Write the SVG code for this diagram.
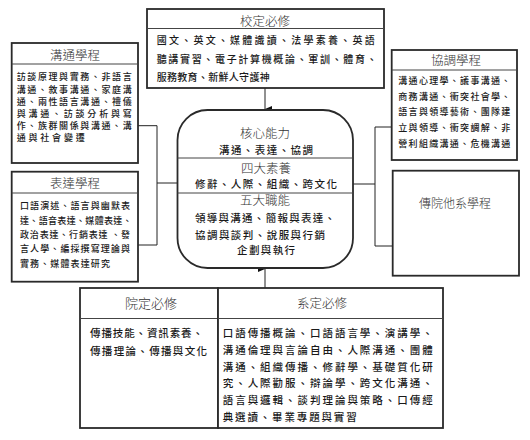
<svg xmlns="http://www.w3.org/2000/svg" width="530" height="440" viewBox="0 0 530 440">
<style>
.bx{fill:#fff;stroke:#2a2a2a;stroke-width:1.8}
.dv{stroke:#444;stroke-width:1;fill:none}
.cn{stroke:#222;stroke-width:1;fill:none}
text{font-family:"Noto Sans CJK TC","Noto Sans CJK SC",sans-serif;fill:#1a1a1a}
.ti{font-size:12.5px;fill:#333;font-weight:300}
.b9{font-size:9px;font-weight:500}
.b10{font-size:10px;font-weight:500}
.b105{font-size:10.5px;font-weight:500}
.m{text-anchor:middle}
</style>
<defs>
<marker id="ah" markerUnits="userSpaceOnUse" markerWidth="8" markerHeight="8" refX="4" refY="7" orient="auto-start-reverse" viewBox="0 0 8 8">
<path d="M1,0 L7,0 L4,7 Z" fill="#111"/>
</marker>
</defs>
<g id="connectors">
<line class="cn" x1="265" y1="88" x2="265" y2="109" marker-end="url(#ah)"/>
<line class="cn" x1="265" y1="288" x2="265" y2="269" marker-end="url(#ah)"/>
<polyline class="cn" points="138,125.7 157,125.7 157,245 138,245"/>
<line class="cn" x1="157" y1="183" x2="177.5" y2="183"/>
<polyline class="cn" points="391.7,127 375,127 375,246 392.7,246"/>
<line class="cn" x1="353" y1="184" x2="375" y2="184"/>
</g>
<g id="school-required">
<rect class="bx" x="147" y="9" width="237" height="79"/>
<line class="dv" x1="147" y1="28.5" x2="384" y2="28.5"/>
<text class="ti m" x="265" y="26">校定必修</text>
<text class="b10" x="156.7" y="43.8" textLength="218" lengthAdjust="spacing">國文、英文、媒體識讀、法學素養、英語</text>
<text class="b10" x="156.7" y="63" textLength="220" lengthAdjust="spacing">聽講實習、電子計算機概論、軍訓、體育、</text>
<text class="b10" x="156.7" y="81" textLength="113" lengthAdjust="spacing">服務教育、新鮮人守護神</text>
</g>
<g id="communication">
<rect class="bx" x="11.7" y="43" width="126.3" height="120"/>
<line class="dv" x1="11.7" y1="64" x2="138" y2="64"/>
<text class="ti m" x="75" y="60.3">溝通學程</text>
<text class="b9" x="16.7" y="80.4" textLength="115" lengthAdjust="spacing">訪談原理與實務、非語言</text>
<text class="b9" x="16.7" y="92.6" textLength="115" lengthAdjust="spacing">溝通、敘事溝通、家庭溝</text>
<text class="b9" x="16.7" y="104.8" textLength="115" lengthAdjust="spacing">通、兩性語言溝通、禮儀</text>
<text class="b9" x="16.7" y="117" textLength="115" lengthAdjust="spacing">與溝通、訪談分析與寫</text>
<text class="b9" x="16.7" y="129.2" textLength="115" lengthAdjust="spacing">作、族群關係與溝通、溝</text>
<text class="b9" x="16.7" y="141.4" textLength="68" lengthAdjust="spacing">通與社會變遷</text>
</g>
<g id="expression">
<rect class="bx" x="11.7" y="171.7" width="126.3" height="110"/>
<line class="dv" x1="11.7" y1="193" x2="138" y2="193"/>
<text class="ti m" x="75" y="187.5">表達學程</text>
<text class="b9" x="20" y="209.4" textLength="110" lengthAdjust="spacing">口語演述、語言與幽默表</text>
<text class="b9" x="20" y="223.7" textLength="111.7" lengthAdjust="spacing">達、語音表達、媒體表達、</text>
<text class="b9" x="20" y="238" textLength="110" lengthAdjust="spacing">政治表達、行銷表達 、發</text>
<text class="b9" x="20" y="252.4" textLength="110" lengthAdjust="spacing">言人學、編採撰寫理論與</text>
<text class="b9" x="20" y="266.7" textLength="90" lengthAdjust="spacing">實務、媒體表達研究</text>
</g>
<g id="coordination">
<rect class="bx" x="391.7" y="50" width="125.3" height="110"/>
<line class="dv" x1="391.7" y1="70" x2="517" y2="70"/>
<text class="ti m" x="456" y="65.3">協調學程</text>
<text class="b9" x="398.3" y="84" textLength="112" lengthAdjust="spacing">溝通心理學、議事溝通、</text>
<text class="b9" x="398.3" y="99.7" textLength="112" lengthAdjust="spacing">商務溝通、衝突社會學、</text>
<text class="b9" x="398.3" y="115.4" textLength="112" lengthAdjust="spacing">語言與領導藝術、團隊建</text>
<text class="b9" x="398.3" y="131.4" textLength="112" lengthAdjust="spacing">立與領導、衝突調解、非</text>
<text class="b9" x="398.3" y="147" textLength="112" lengthAdjust="spacing">營利組織溝通、危機溝通</text>
</g>
<g id="other-programs">
<rect class="bx" x="392.7" y="170.7" width="126.3" height="105"/>
<text class="ti m" x="455" y="207.5" style="font-size:12px">傳院他系學程</text>
</g>
<g id="core">
<rect class="bx" x="177.5" y="110" width="175.5" height="158" rx="30" ry="30"/>
<line class="dv" x1="177.5" y1="158" x2="353" y2="158"/>
<line class="dv" x1="177.5" y1="193" x2="353" y2="193"/>
<text class="ti m" x="265" y="137.7">核心能力</text>
<text class="b105 m" x="266" y="154" textLength="94" lengthAdjust="spacing">溝通、表達、協調</text>
<text class="ti m" x="266" y="172.7">四大素養</text>
<text class="b105 m" x="266" y="188" textLength="142" lengthAdjust="spacing">修辭、人際、組織、跨文化</text>
<text class="ti m" x="265" y="204.7">五大職能</text>
<text class="b105" x="195" y="222" textLength="140" lengthAdjust="spacing">領導與溝通、簡報與表達、</text>
<text class="b105" x="195" y="239" textLength="130" lengthAdjust="spacing">協調與談判、說服與行銷</text>
<text class="b105 m" x="266" y="254" textLength="58" lengthAdjust="spacing">企劃與執行</text>
</g>
<g id="college-required">
<rect class="bx" x="80" y="288" width="138" height="140"/>
<line class="dv" x1="80" y1="318.5" x2="218" y2="318.5"/>
<text class="ti m" x="151" y="308" style="font-size:13px">院定必修</text>
<text class="b105" x="90" y="337.3" textLength="113" lengthAdjust="spacing">傳播技能、資訊素養、</text>
<text class="b105" x="90" y="354.7" textLength="117" lengthAdjust="spacing">傳播理論、傳播與文化</text>
</g>
<g id="dept-required">
<rect class="bx" x="218" y="288" width="225" height="140"/>
<line class="dv" x1="218" y1="318.5" x2="443" y2="318.5"/>
<text class="ti m" x="322" y="308">系定必修</text>
<text class="b105" x="222.7" y="337.3" textLength="210" lengthAdjust="spacing">口語傳播概論、口語語言學、演講學、</text>
<text class="b105" x="222.7" y="354" textLength="210" lengthAdjust="spacing">溝通倫理與言論自由、人際溝通、團體</text>
<text class="b105" x="222.7" y="371.3" textLength="210" lengthAdjust="spacing">溝通、組織傳播、修辭學、基礎質化研</text>
<text class="b105" x="222.7" y="387.3" textLength="210" lengthAdjust="spacing">究、人際勸服、辯論學、跨文化溝通、</text>
<text class="b105" x="222.7" y="404" textLength="210" lengthAdjust="spacing">語言與邏輯、談判理論與策略、口傳經</text>
<text class="b105" x="222.7" y="420.7" textLength="134" lengthAdjust="spacing">典選讀、畢業專題與實習</text>
</g>
</svg>
